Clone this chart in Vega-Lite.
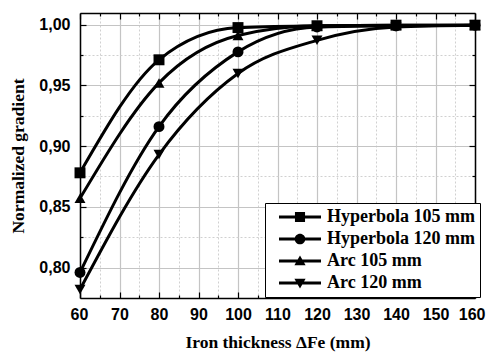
{
  "$schema": "https://vega.github.io/schema/vega-lite/v6.json",
  "width": 395,
  "height": 285,
  "autosize": {"type": "none"},
  "padding": {"left": 80, "top": 13, "right": 11, "bottom": 55},
  "background": "white",
  "config": {
    "view": {"stroke": null},
    "axis": {
      "domainColor": "black",
      "domainWidth": 1.5,
      "tickColor": "black",
      "tickWidth": 1.2,
      "labelFont": "Liberation Sans",
      "labelFontWeight": "bold",
      "labelFontSize": 16,
      "labelColor": "black",
      "labelFlush": false,
      "titleFont": "Liberation Serif",
      "titleFontWeight": "bold",
      "titleFontSize": 17.5,
      "titleColor": "black"
    }
  },
  "data": {
    "values": [
      {"x": 60, "y": 0.878, "series": "Hyperbola 105 mm"},
      {"x": 80, "y": 0.971, "series": "Hyperbola 105 mm"},
      {"x": 100, "y": 0.9975, "series": "Hyperbola 105 mm"},
      {"x": 120, "y": 0.999, "series": "Hyperbola 105 mm"},
      {"x": 140, "y": 0.9995, "series": "Hyperbola 105 mm"},
      {"x": 160, "y": 0.9995, "series": "Hyperbola 105 mm"},
      {"x": 60, "y": 0.796, "series": "Hyperbola 120 mm"},
      {"x": 80, "y": 0.916, "series": "Hyperbola 120 mm"},
      {"x": 100, "y": 0.9775, "series": "Hyperbola 120 mm"},
      {"x": 120, "y": 0.998, "series": "Hyperbola 120 mm"},
      {"x": 140, "y": 0.999, "series": "Hyperbola 120 mm"},
      {"x": 160, "y": 0.9995, "series": "Hyperbola 120 mm"},
      {"x": 60, "y": 0.857, "series": "Arc 105 mm"},
      {"x": 80, "y": 0.952, "series": "Arc 105 mm"},
      {"x": 100, "y": 0.991, "series": "Arc 105 mm"},
      {"x": 120, "y": 0.999, "series": "Arc 105 mm"},
      {"x": 140, "y": 0.9995, "series": "Arc 105 mm"},
      {"x": 160, "y": 0.9995, "series": "Arc 105 mm"},
      {"x": 60, "y": 0.782, "series": "Arc 120 mm"},
      {"x": 80, "y": 0.893, "series": "Arc 120 mm"},
      {"x": 100, "y": 0.9597, "series": "Arc 120 mm"},
      {"x": 120, "y": 0.987, "series": "Arc 120 mm"},
      {"x": 140, "y": 0.998, "series": "Arc 120 mm"},
      {"x": 160, "y": 0.9995, "series": "Arc 120 mm"}
    ]
  },
  "layer": [
    {
      "mark": {"type": "point", "opacity": 0},
      "encoding": {
        "x": {"field": "x", "type": "quantitative", "scale": {"domain": [60, 160], "nice": false, "zero": false},
          "axis": {"orient": "bottom", "values": [65, 75, 85, 95, 105, 115, 125, 135, 145, 155], "grid": true, "gridDash": [2, 2], "gridColor": "#d0d0d0", "labels": false, "domain": false, "tickSize": -3, "title": null}},
        "y": {"field": "y", "type": "quantitative", "scale": {"domain": [0.775, 1.0095], "nice": false, "zero": false},
          "axis": {"orient": "left", "values": [0.825, 0.875, 0.925, 0.975], "grid": true, "gridDash": [2, 2], "gridColor": "#d0d0d0", "labels": false, "domain": false, "tickSize": -3, "title": null}}
      }
    },
    {
      "mark": {"type": "point", "opacity": 0},
      "encoding": {
        "x": {"field": "x", "type": "quantitative",
          "axis": {"orient": "bottom", "values": [60, 70, 80, 90, 100, 110, 120, 130, 140, 150, 160], "grid": true, "gridColor": "#c4c4c4", "gridWidth": 1.2, "tickSize": -6, "labelPadding": 14, "labelFlush": true, "labelFlushOffset": 10, "title": "Iron thickness ΔFe (mm)", "titlePadding": 11}},
        "y": {"field": "y", "type": "quantitative",
          "axis": {"orient": "left", "values": [0.8, 0.85, 0.9, 0.95, 1.0], "grid": true, "gridColor": "#c4c4c4", "gridWidth": 1.2, "tickSize": -6, "labelPadding": 16, "labelExpr": "replace(format(datum.value, '.2f'), '.', ',')", "title": "Normalized gradient", "titlePadding": 11}}
      }
    },
    {
      "mark": {"type": "point", "opacity": 0},
      "encoding": {
        "x": {"field": "x", "type": "quantitative",
          "axis": {"orient": "top", "values": [65, 75, 85, 95, 105, 115, 125, 135, 145, 155], "grid": false, "labels": false, "domain": false, "tickSize": -3, "title": null}},
        "y": {"field": "y", "type": "quantitative",
          "axis": {"orient": "right", "values": [0.825, 0.875, 0.925, 0.975], "grid": false, "labels": false, "domain": false, "tickSize": -3, "title": null}}
      }
    },
    {
      "mark": {"type": "point", "opacity": 0},
      "encoding": {
        "x": {"field": "x", "type": "quantitative",
          "axis": {"orient": "top", "values": [60, 70, 80, 90, 100, 110, 120, 130, 140, 150, 160], "grid": false, "labels": false, "tickSize": -6, "title": null}},
        "y": {"field": "y", "type": "quantitative",
          "axis": {"orient": "right", "values": [0.8, 0.85, 0.9, 0.95, 1.0], "grid": false, "labels": false, "tickSize": -6, "title": null}}
      }
    },
    {
      "mark": {"type": "line", "interpolate": "monotone", "color": "black", "strokeWidth": 3},
      "encoding": {
        "x": {"field": "x", "type": "quantitative", "axis": null},
        "y": {"field": "y", "type": "quantitative", "axis": null},
        "detail": {"field": "series"}
      }
    },
    {
      "mark": {"type": "point", "filled": true, "color": "black", "opacity": 1, "size": 120},
      "encoding": {
        "x": {"field": "x", "type": "quantitative", "axis": null},
        "y": {"field": "y", "type": "quantitative", "axis": null},
        "shape": {"field": "series", "type": "nominal",
          "scale": {"domain": ["Hyperbola 105 mm", "Hyperbola 120 mm", "Arc 105 mm", "Arc 120 mm"], "range": ["square", "circle", "triangle-up", "triangle-down"]},
          "legend": null}
      }
    },
    {
      "mark": {"type": "point", "filled": true, "color": "black", "opacity": 0, "size": 196},
      "encoding": {
        "x": {"field": "x", "type": "quantitative", "axis": null},
        "y": {"field": "y", "type": "quantitative", "axis": null},
        "shape": {"field": "series", "type": "nominal",
          "scale": {"domain": ["Hyperbola 105 mm", "Hyperbola 120 mm", "Arc 105 mm", "Arc 120 mm"],
            "range": [
              "M0,-0.21H6V0.21H0Z M2.28,-0.72H3.72V0.72H2.28Z",
              "M0,-0.21H6V0.21H0Z M2.24,0A0.76,0.76 0 1,1 3.76,0A0.76,0.76 0 1,1 2.24,0Z",
              "M0,-0.21H6V0.21H0Z M3,-0.8L3.8,0.6L2.2,0.6Z",
              "M0,-0.21H6V0.21H0Z M3,0.8L2.2,-0.6L3.8,-0.6Z"
            ]},
          "legend": {
            "title": null,
            "orient": "none",
            "legendX": 185,
            "legendY": 190,
            "symbolSize": 196,
            "symbolOpacity": 1,
            "symbolFillColor": "black",
            "symbolStrokeColor": "black",
            "symbolStrokeWidth": 0,
            "labelFont": "Liberation Serif",
            "labelFontWeight": "bold",
            "labelFontSize": 18,
            "labelColor": "black",
            "labelOffset": 39,
            "rowPadding": 4,
            "strokeColor": "black",
            "fillColor": "white",
            "padding": 5
          }
        }
      }
    }
  ],
  "resolve": {"axis": {"x": "independent", "y": "independent"}, "scale": {"shape": "independent"}}
}
